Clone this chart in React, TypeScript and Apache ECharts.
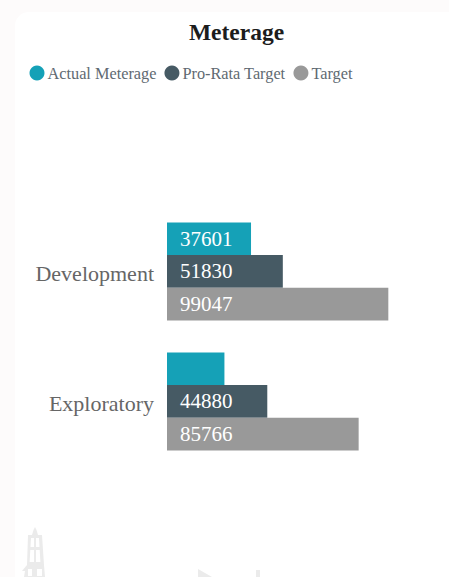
import React, { useEffect, useRef } from "react";
import * as echarts from "echarts";

const categories = ["Development", "Exploratory"];
const actualMeterage = [37601, 25700];
const proRataTarget = [51830, 44880];
const target = [99047, 85766];
const hiddenLabelValues = [25700];

const FONT = "'Liberation Serif', serif";

const rigPath =
  "M13 0 L14.5 3 L16 8 L20 8 L22 38 L23 50 L2 50 L3 44 L0 44 L5 38 L6 8 L10 8 L11.5 3 Z " +
  "M9 11 L8.5 20 L12 20 L12 11 Z M14 11 L14 20 L17.5 20 L17 11 Z " +
  "M8.3 23 L7.6 35 L12 35 L12 23 Z M14 23 L14 35 L18.4 35 L17.7 23 Z " +
  "M6 42 L6 49 L10 49 L10 42 Z M15 42 L15 49 L20 49 L20 42 Z";
const jackPath = "M0 0 L14 8 L0 8 Z M58 1 L62 1 L62 8 L58 8 Z";
echarts.graphic.registerShape("rigMark", echarts.graphic.extendPath(rigPath as any, {}) as any);
echarts.graphic.registerShape("jackMark", echarts.graphic.extendPath(jackPath as any, {}) as any);

const makeLabel = () => ({
  show: true,
  position: "insideLeft" as const,
  distance: 13,
  color: "#ffffff",
  fontFamily: FONT,
  fontSize: 21,
  formatter: (p: any) => (hiddenLabelValues.includes(p.value) ? "" : String(p.value)),
});

export default function App() {
  const ref = useRef<HTMLDivElement>(null);
  useEffect(() => {
    document.body.style.margin = "0";
    const chart = echarts.init(ref.current!, null, { renderer: "svg" });
    chart.setOption({
      animation: false,
      backgroundColor: "#fdfbfb",
      title: {
        text: "Meterage",
        left: 231.5,
        textAlign: "center",
        top: 15,
        textStyle: { fontFamily: FONT, fontSize: 23.5, fontWeight: "bold", color: "#1c1c1c" },
      },
      legend: {
        left: 24.5,
        top: 60,
        icon: "circle",
        itemWidth: 15,
        itemHeight: 15,
        itemGap: 8,
        textStyle: { fontFamily: FONT, fontSize: 16.3, color: "#5f6a72", padding: [0, 0, 0, -2] },
        data: ["Actual Meterage", "Pro-Rata Target", "Target"],
      },
      graphic: [
        {
          type: "rect",
          z: -10,
          shape: { x: 15, y: 12, width: 460, height: 600, r: 14 },
          style: { fill: "#ffffff" },
        },
        { type: "rigMark", x: 22, y: 527, z: -5, style: { fill: "#ebebeb" } },
        { type: "jackMark", x: 198, y: 569, z: -5, style: { fill: "#ebebeb" } },
      ],
      grid: { left: 167, top: 206.4, width: 245.8, height: 260 },
      xAxis: { type: "value", min: 0, max: 110000, show: false },
      yAxis: {
        type: "category",
        inverse: true,
        data: categories,
        axisLine: { show: false },
        axisTick: { show: false },
        axisLabel: {
          margin: 13,
          formatter: (v: string) => `{a|${v}}`,
          rich: { a: { fontFamily: FONT, fontSize: 22, color: "#666666", padding: [4, 0, 0, 0] } },
        },
      },
      series: [
        { name: "Actual Meterage", type: "bar", data: actualMeterage, barGap: 0, barCategoryGap: "24.6%", itemStyle: { color: "#15a1b7" }, label: makeLabel() },
        { name: "Pro-Rata Target", type: "bar", data: proRataTarget, itemStyle: { color: "#465a64" }, label: makeLabel() },
        { name: "Target", type: "bar", data: target, itemStyle: { color: "#999999" }, label: makeLabel() },
      ],
    });
    return () => chart.dispose();
  }, []);
  return <div ref={ref} style={{ width: 449, height: 577 }} />;
}
